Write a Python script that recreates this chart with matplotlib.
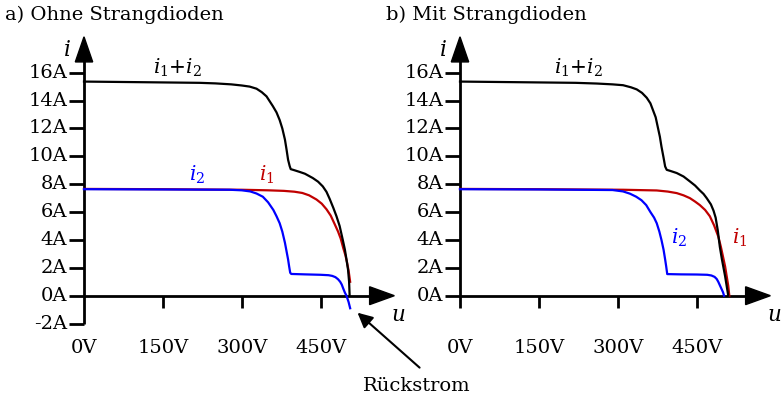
import matplotlib
matplotlib.use("Agg")
import matplotlib.pyplot as plt
from matplotlib.patches import Polygon

plt.rcParams['font.family'] = ['DejaVu Serif']
plt.rcParams['mathtext.fontset'] = 'dejavuserif'

# ---------------- data ----------------
titles = ["a) Ohne Strangdioden", "b) Mit Strangdioden"]
x_ticks = [0, 150, 300, 450]
x_tick_labels = ["0V", "150V", "300V", "450V"]
a_y_ticks = [-2, 0, 2, 4, 6, 8, 10, 12, 14, 16]
b_y_ticks = [0, 2, 4, 6, 8, 10, 12, 14, 16]

# panel a) without string diodes
a_u_sum = [0, 100, 220, 250, 280, 300, 315, 328, 338, 347, 353, 359, 366, 372, 377, 382, 385, 388, 391, 393,
           400, 410, 420, 435, 445, 454, 461, 467, 474, 480, 486, 492, 496, 499, 502, 504, 505]
a_i_sum = [15.36, 15.32, 15.27, 15.23, 15.16, 15.08, 15.0, 14.85, 14.6, 14.3, 13.95, 13.6, 13.15, 12.6, 12.0, 11.2, 10.5, 9.75, 9.3, 9.08,
           9.0, 8.88, 8.75, 8.44, 8.18, 7.84, 7.45, 6.95, 6.3, 5.7, 5.0, 4.0, 3.3, 2.6, 1.86, 1.0, 0.0]
a_u_i1 = [0, 150, 300, 350, 380, 400, 415, 428, 442, 452, 461, 469, 477, 483, 488, 493, 497, 500, 503, 506]
a_i1 = [7.66, 7.64, 7.6, 7.56, 7.52, 7.46, 7.37, 7.2, 6.9, 6.6, 6.2, 5.75, 5.1, 4.6, 4.1, 3.4, 2.9, 2.4, 1.8, 1.0]
a_u_i2 = [0, 150, 277, 300, 316, 328, 340, 350, 360, 366, 372, 377, 382, 385, 388, 390, 392, 394,
          420, 450, 465, 472, 478, 483, 487, 490, 493, 496, 499, 503, 506]
a_i2 = [7.64, 7.62, 7.6, 7.56, 7.48, 7.33, 7.1, 6.7, 6.15, 5.7, 5.2, 4.6, 3.8, 3.2, 2.6, 2.1, 1.65, 1.56,
        1.53, 1.5, 1.47, 1.42, 1.33, 1.18, 1.0, 0.8, 0.5, 0.22, 0.0, -0.45, -0.9]

# panel b) with string diodes
b_u_sum = [0, 100, 220, 260, 290, 310, 325, 336, 346, 355, 362, 367, 372, 376, 380, 383, 387, 390, 393,
           400, 412, 425, 437, 447, 456, 463, 469, 477, 482, 486, 490, 494, 498, 504, 510]
b_i_sum = [15.36, 15.32, 15.27, 15.22, 15.16, 15.1, 14.95, 14.8, 14.55, 14.2, 13.8, 13.3, 12.8, 12.1, 11.4, 10.7, 9.9, 9.27, 9.03,
           8.95, 8.8, 8.55, 8.2, 7.9, 7.55, 7.3, 7.0, 6.55, 6.1, 5.6, 4.7, 3.5, 2.6, 1.4, 0.0]
b_u_i1 = [0, 150, 310, 374, 395, 412, 425, 437, 447, 456, 466, 475, 483, 491, 496, 500, 504, 507, 510, 512]
b_i1 = [7.66, 7.64, 7.6, 7.55, 7.47, 7.36, 7.2, 7.0, 6.75, 6.5, 6.15, 5.7, 5.05, 4.25, 3.5, 2.8, 2.1, 1.4, 0.7, 0.0]
b_u_i2 = [0, 150, 290, 310, 323, 335, 345, 354, 362, 369, 374, 379, 383, 387, 390, 392, 394,
          420, 450, 470, 478, 484, 488, 491, 494, 497, 500, 502]
b_i2 = [7.64, 7.62, 7.58, 7.48, 7.32, 7.1, 6.85, 6.5, 6.0, 5.6, 5.2, 4.6, 4.0, 3.3, 2.6, 2.1, 1.55,
        1.53, 1.52, 1.5, 1.45, 1.35, 1.2, 1.0, 0.75, 0.5, 0.25, 0.0]

RED = "#C00000"
BLUE = "#0000FF"
FS = 14
LFS = 14.5

W, H = 782, 403
fig = plt.figure(figsize=(W / 100, H / 100), dpi=100)

PXV = 0.526   # px per volt
PXA = 13.94   # px per ampere
XLIM = (-40, 600)
YLIM = (-3, 19)


def make_axes(x0_px, y0_px):
    left = x0_px + XLIM[0] * PXV
    width = (XLIM[1] - XLIM[0]) * PXV
    bottom_top = y0_px - YLIM[0] * PXA
    height = (YLIM[1] - YLIM[0]) * PXA
    ax = fig.add_axes([left / W, (H - bottom_top) / H, width / W, height / H])
    ax.set_xlim(*XLIM)
    ax.set_ylim(*YLIM)
    ax.axis("off")
    return ax


def draw_frame(ax, y_ticks, y_axis_bottom):
    lw = 2.0
    tip_y = 18.57
    base_y = 16.77
    tip_x = 590
    base_x = 543
    # y axis
    ax.plot([0, 0], [y_axis_bottom, base_y + 0.2], color="black", lw=lw, clip_on=False, solid_capstyle="butt")
    ax.add_patch(Polygon([[-16.5, base_y], [16.5, base_y], [0, tip_y]], closed=True,
                         color="black", clip_on=False))
    # x axis
    ax.plot([0, base_x + 2], [0, 0], color="black", lw=lw, clip_on=False, solid_capstyle="butt")
    ax.add_patch(Polygon([[base_x, -0.64], [base_x, 0.64], [tip_x, 0]], closed=True,
                         color="black", clip_on=False))
    # y ticks
    for t in y_ticks:
        ax.plot([-28.5, 0], [t, t], color="black", lw=lw, clip_on=False, solid_capstyle="butt")
        ax.text(-32, t, f"{t}A", ha="right", va="center", fontsize=FS)
    # x ticks
    for t, lab in zip(x_ticks, x_tick_labels):
        if t != 0:
            ax.plot([t, t], [0, -0.86], color="black", lw=lw, clip_on=False, solid_capstyle="butt")
        ax.text(t, -3.73, lab, ha="center", va="center", fontsize=FS)
    ax.text(-32, 17.6, "$i$", ha="center", va="center", fontsize=LFS + 1)
    ax.text(598, -1.4, "$u$", ha="center", va="center", fontsize=LFS + 1)


axa = make_axes(84, 295.7)
axb = make_axes(460, 295.7)

draw_frame(axa, a_y_ticks, -2)
draw_frame(axb, b_y_ticks, -0.86)

LW = 1.6
axa.plot(a_u_i1, a_i1, color=RED, lw=LW, clip_on=False)
axa.plot(a_u_i2, a_i2, color=BLUE, lw=LW, clip_on=False)
axa.plot(a_u_sum, a_i_sum, color="black", lw=LW, clip_on=False)

axb.plot(b_u_i1, b_i1, color=RED, lw=LW, clip_on=False)
axb.plot(b_u_i2, b_i2, color=BLUE, lw=LW, clip_on=False)
axb.plot(b_u_sum, b_i_sum, color="black", lw=LW, clip_on=False)

# curve labels
axa.text(178, 16.35, "$i_1$+$i_2$", ha="center", va="center", fontsize=LFS)
axa.text(214, 8.7, "$i_2$", ha="center", va="center", fontsize=LFS, color=BLUE)
axa.text(347, 8.7, "$i_1$", ha="center", va="center", fontsize=LFS, color=RED)
axb.text(225, 16.35, "$i_1$+$i_2$", ha="center", va="center", fontsize=LFS)
axb.text(416, 4.15, "$i_2$", ha="center", va="center", fontsize=LFS, color=BLUE)
axb.text(532, 4.15, "$i_1$", ha="center", va="center", fontsize=LFS, color=RED)

# Rückstrom annotation
axa.annotate("", xy=(520, -1.22), xytext=(638, -5.16),
             arrowprops=dict(arrowstyle="-|>,head_length=0.9,head_width=0.45",
                             color="black", lw=1.5, shrinkA=0, shrinkB=0),
             annotation_clip=False)
axa.text(633, -6.45, "Rückstrom", ha="center", va="center", fontsize=FS)

# titles
fig.text(5 / W, 1 - 15 / H, titles[0], ha="left", va="center", fontsize=FS)
fig.text(386 / W, 1 - 15 / H, titles[1], ha="left", va="center", fontsize=FS)

fig.savefig("out.png", dpi=100)
